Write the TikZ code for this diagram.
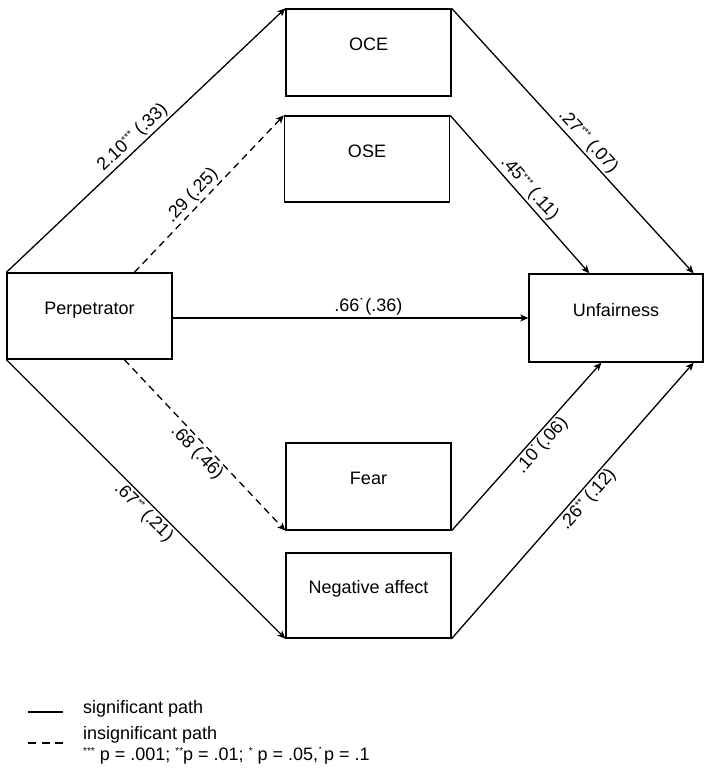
\documentclass[tikz,border=0pt]{standalone}
\usepackage{fontspec}
\setmainfont{Liberation Sans}
\usetikzlibrary{arrows.meta}
\newcommand\sigmark[1]{\raisebox{0.6ex}{\fontsize{10}{10}\selectfont #1}}
\begin{document}
\begin{tikzpicture}[x=1pt,y=-1pt,
  font=\fontsize{18}{21}\selectfont,
  box/.style={draw, line width=1.3pt, rectangle, minimum width=165pt, minimum height=86pt,
              text height=13pt, text depth=17pt, inner sep=0pt},
  path/.style={line width=1.3pt, -{Stealth[length=8pt,width=7pt,inset=2pt]}},
  nsig/.style={path, dash pattern=on 7pt off 5pt},
  lab/.style={sloped, inner sep=2pt, font=\fontsize{18}{21}\selectfont}
]
\useasboundingbox (0,0) rectangle (704,774);

\node[box] (perp) at (89.5,316) {Perpetrator};
\node[box, minimum height=87pt] (oce) at (368.5,52.5) {OCE};
\node[box] (ose) at (367,159) {OSE};
\node[box, minimum width=174pt, minimum height=88pt] (unf) at (616,318) {Unfairness};
\node[box, minimum height=87pt] (fear) at (368.5,486.5) {Fear};
\node[box, minimum height=85pt] (neg) at (368.5,595.5) {Negative affect};

\coordinate (pTop) at ([xshift=128pt]perp.north west);
\coordinate (pEast) at ([yshift=-2pt]perp.east);
\coordinate (pBot) at ([xshift=118pt]perp.south west);
\coordinate (uTopA) at ([xshift=61pt]unf.north west);
\coordinate (uTopB) at ([xshift=-10pt]unf.north east);
\coordinate (uBotA) at ([xshift=73pt]unf.south west);
\coordinate (uBotB) at ([xshift=-10pt]unf.south east);

\draw[path] (perp.north west) -- node[lab, pos=.48, above] {2.10\sigmark{***} (.33)} (oce.north west);
\draw[nsig] (pTop) -- node[lab, pos=.44, above] {.29 (.25)} (ose.north west);
\draw[path] (pEast) -- node[lab, pos=.55, above] {.66˙(.36)} (unf.west);
\draw[nsig] (pBot) -- node[lab, pos=.50, below] {.68 (.46)} (fear.south west);
\draw[path] (perp.south west) -- node[lab, pos=.52, below] {.67\sigmark{**} (.21)} (neg.south west);

\draw[path] (oce.north east) -- node[lab, pos=.53, above] {.27\sigmark{***} (.07)} (uTopB);
\draw[path] (ose.north east) -- node[lab, pos=.51, above] {.45\sigmark{***} (.11)} (uTopA);
\draw[path] (fear.south east) -- node[lab, pos=.55, below] {.10˙(.06)} (uBotA);
\draw[path] (neg.south east) -- node[lab, pos=.53, below] {.26\sigmark{**} (.12)} (uBotB);

% legend
\coordinate (l1a) at (28,712);
\coordinate (l1b) at (63,712);
\coordinate (l2a) at (28,743);
\coordinate (l2b) at (63,743);
\draw[line width=1.3pt] (l1a) -- (l1b);
\draw[line width=1.3pt, dash pattern=on 8pt off 5.5pt] (l2a) -- (l2b);
\node[anchor=base west, inner sep=0pt] (leg1) at (83,713) {significant path};
\node[anchor=base west, inner sep=0pt] (leg2) at (83,739) {insignificant path};
\node[anchor=base west, inner sep=0pt] (leg3) at (83,760) {\sigmark{***} p = .001; \sigmark{**}p = .01; \sigmark{*} p = .05,˙p = .1};
\end{tikzpicture}
\end{document}
